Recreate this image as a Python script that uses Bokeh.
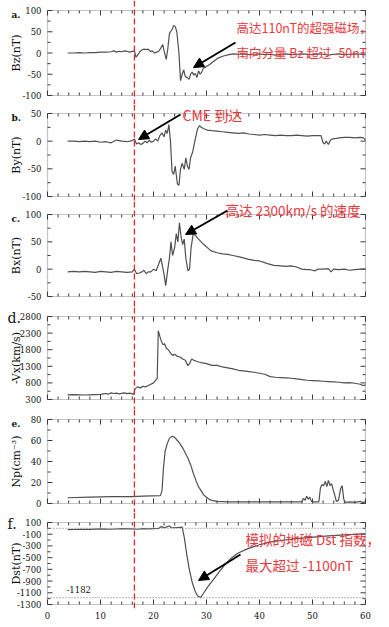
import numpy as np
from bokeh.plotting import figure
from bokeh.layouts import column
from bokeh.models import (Range1d, FixedTicker, BoxAnnotation, Span, Label, Arrow, NormalHead)
from bokeh.core.properties import value
from bokeh.embed import file_html
from bokeh.resources import INLINE

# ---------------- data ----------------
cme_time = 16.4
x_ticks = [0, 10, 20, 30, 40, 50, 60]

bz_t = [3.8, 5, 6, 7, 8, 9, 10, 11, 12, 12.5, 13, 13.5, 14, 14.5, 15, 15.5, 16, 16.4,
        16.7, 17.0, 17.4, 17.8, 18.2, 18.6, 19.0, 19.4, 19.8, 20.2, 20.6, 21.0, 21.4,
        21.75, 22.0, 22.4, 22.7, 23.0, 23.2, 23.5, 23.8, 24.1, 24.4, 24.8, 25.1, 25.4,
        25.7, 26.0, 26.4, 26.7, 27.0, 27.3, 27.6, 27.9, 28.2, 28.5, 28.8, 29.1, 29.4,
        30.0, 30.6, 31.3, 32.2, 33.2, 34.2, 35.1, 36, 37, 38, 39, 40, 41, 42, 43, 44,
        45, 46, 47, 48, 49, 50, 51, 52, 53, 54, 55, 56, 57, 58, 59, 60]
bz = [0, 0, 1, 0, 1, 1, 2, 2, 3, 5, 2, 4, 3, 5, 4, 2, 4, 5,
      -10, -5, 3, 7, 9, 8, 9, 4, 5, 0, 2, 4, 12,
      20, 5, -15, 10, 45, 50, 55, 65, 62, 50, 0, -65, -50,
      -40, -55, -58, -62, -50, -45, -52, -48, -58, -42, -50, -45, -36,
      -32, -27, -20, -12, -7, -4, -2, -3, -2, -4, -3, -2, -4, -3, -5, -3,
      -2, -4, -3, -2, -3, -4, -2, -3, -5, -3, -2, -4, -3, -2, -3, -4]

by_t = [3.8, 5, 6, 7, 8, 9, 10, 11, 12, 13, 14, 15, 16, 16.4, 16.8, 17.2, 17.6, 18.0,
        18.4, 18.8, 19.2, 19.6, 20.0, 20.4, 20.8, 21.2, 21.6, 22.0, 22.3, 22.6, 22.9,
        23.2, 23.5, 23.8, 24.1, 24.5, 24.8, 25.1, 25.4, 25.8, 26.1, 26.4, 26.7, 27.0,
        27.4, 27.8, 28.3, 28.7, 29.0, 29.6, 30.2, 31.0, 32, 33, 34, 35, 36, 37, 38, 39,
        40, 41, 42, 43, 44, 45, 46, 47, 48, 49, 50, 51, 51.6, 52.0, 52.3, 52.6, 53.0,
        53.4, 53.8, 54.5, 55, 56, 57, 58, 59, 59.6, 60]
by = [0, 0, -1, 0, -1, 0, -2, -1, -3, 2, 0, -1, 1, 4, -5, -3, -6, -4,
      0, -3, 2, -2, 0, 4, 0, 10, 15, 8, 20, 14, 30,
      0, -55, -60, -45, -77, -80, -50, -40, -51, -30, -45, -51, -30,
      -19, 0, 22, 28, 25, 22, 20, 19, 18, 17, 16, 15, 14, 15, 13, 12,
      11, 12, 11, 10, 11, 10, 10, 11, 10, 9, 10, 10, 10, -3, -5, 0, -6,
      2, 4, 5, 6, 7, 7, 6, 7, 6, 2]

bx_t = [3.8, 5, 6, 7, 8, 9, 10, 11, 12, 13, 14, 15, 16, 16.4, 16.8, 17.3, 17.8, 18.2,
        18.6, 19.0, 19.5, 20.0, 20.5, 21.0, 21.4, 21.7, 22.0, 22.3, 22.7, 23.0, 23.3,
        23.6, 24.0, 24.3, 24.6, 24.9, 25.2, 25.5, 25.8, 26.1, 26.5, 26.8, 27.1, 27.5,
        27.9, 28.5, 29.5, 30.8, 32, 33, 34, 35, 36.4, 38, 39, 40, 41, 41.5, 42.7, 44,
        45, 46, 47, 48, 49, 49.6, 50.5, 51, 52, 53, 53.5, 54, 55, 56, 57, 58, 59, 60]
bx = [-5, -4, -5, -4, -5, -6, -4, -5, -6, -4, -5, -6, -5, 0, -8, -7, -5, -2,
      -8, -5, -5, 0, -3, 10, 20, 5, -10, -30, 0, 20, 50,
      25, 40, 65, 50, 85, 60, 45, 55, 20, -3, 0, 40, 65,
      62, 55, 45, 34, 30, 28, 27, 25, 22, 18, 16, 15, 12, 10, 7, 6,
      5, 6, 4, 0, -1, -1, -3, 0, 0, 1, -5, 0, -1, 0, -2, -1, 0, 0]

vx_t = [3.8, 5, 6, 7, 8, 9, 10, 10.5, 11, 11.5, 12, 12.5, 13, 13.5, 14, 14.5, 15, 15.5,
        16, 16.3, 16.5, 17, 17.5, 18, 18.5, 19, 19.5, 20, 20.4, 20.7, 20.9, 21.2, 21.5,
        21.8, 22.1, 22.4, 22.8, 23.2, 23.6, 24, 24.5, 25, 25.5, 26, 26.5, 26.8, 27.2,
        27.6, 28, 28.5, 29, 30, 31, 32, 33, 34, 35, 36, 37, 38, 39, 40, 41, 42, 43, 44,
        45, 46, 47, 48, 49, 50, 51, 52, 53, 54, 55, 56, 57, 58, 59, 59.5, 60]
vx = [440, 445, 440, 435, 440, 445, 450, 470, 480, 460, 500, 480, 490, 470, 485, 500, 475, 490,
      470, 455, 620, 680, 650, 700, 680, 720, 760, 800, 880, 930, 2370, 2200, 2050,
      1950, 1980, 1850, 1800, 1700, 1630, 1660, 1600, 1580, 1520, 1480, 1320, 1380, 1520,
      1480, 1460, 1430, 1410, 1380, 1330, 1330, 1280, 1250, 1220, 1180, 1160, 1140, 1120, 1090, 1060, 990, 970, 960,
      950, 940, 920, 900, 880, 870, 860, 850, 840, 830, 820, 800, 810, 790, 760, 720, 740]

np_t = [3.8, 8, 12, 16, 18, 21.3, 21.6, 21.9, 22.2, 22.6, 23.0, 23.5, 24.0, 24.5, 25.0,
        25.5, 26.0, 26.5, 27.0, 27.5, 28.0, 28.5, 29.0, 29.5, 30.0, 30.5, 31.0, 32.0, 34,
        38, 42, 46, 48.0, 48.3, 48.6, 48.9, 49.2, 49.5, 49.8, 50.2, 51.2, 51.5, 51.8,
        52.1, 52.4, 52.7, 53.0, 53.3, 53.6, 53.9, 54.2, 54.5, 54.9, 55.3, 55.6, 55.9,
        56.2, 57, 58, 59, 59.5, 60]
np_v = [5.5, 6, 6.5, 6.5, 7, 7.5, 12, 35, 50, 57, 62, 64, 63, 60, 57,
        53, 48, 43, 37, 29, 22, 16, 12, 8, 6, 4, 3, 2, 1.5,
        1.5, 1.5, 1.5, 1.5, 5, 3, 7, 4, 6, 2, 1.5, 1.5, 15, 18,
        17, 21, 16, 22, 17, 19, 13, 8, 2, 3, 14, 17, 4,
        1, 1.5, 1, 2, 1, 1.5]

dst_t = [3.8, 6, 8, 10, 12, 14, 16, 17, 18, 19, 20, 21, 21.5, 22, 22.5, 23, 23.3, 23.8,
         24.5, 25.4, 25.8, 26.3, 26.8, 27.3, 27.8, 28.3, 28.9, 29.5, 30.3, 31.4, 32.5,
         33.5, 34.5, 36, 37.7, 40, 42, 44, 47, 50.2, 53, 56, 59.6, 60]
dst = [-20, -15, -18, -10, -15, -5, -10, -15, -5, -10, -5, 0, 30, 10, 25, 40, 15, 10,
       15, 20, -150, -460, -720, -920, -1060, -1150, -1182, -1100, -990, -861, -730,
       -620, -520, -420, -350, -280, -235, -207, -175, -150, -128, -110, -93, -92]
dst_quiet = 0
dst_min = -1182

# ---------------- layout / style ----------------
W = 389
LEFT, RIGHT, BOTTOM = 47, 24, 19
TICK_FONT = "DejaVu Serif"
RED = "#e8383d"
CJK = "Noto Sans CJK SC"
LINE = "#505050"
FRAME = "#3a3a3a"

panels = [
    dict(t=bz_t, v=bz, lo=-100, hi=100, ticks=[-100, -50, 0, 50, 100], minor=25,
         label="Bz(nT)", letter="a.", big=False, frame_h=104, box=(10, 95)),
    dict(t=by_t, v=by, lo=-100, hi=50, ticks=[-100, -50, 0, 50], minor=25,
         label="By(nT)", letter="b.", big=False, frame_h=97, box=(9, 92)),
    dict(t=bx_t, v=bx, lo=-50, hi=100, ticks=[-50, 0, 50, 100], minor=25,
         label="Bx(nT)", letter="c.", big=False, frame_h=106, box=(13, 95)),
    dict(t=vx_t, v=vx, lo=300, hi=2800, ticks=[300, 800, 1300, 1800, 2300, 2800], minor=250,
         label="-Vx(km/s)", letter="d.", big=True, frame_h=102, box=(9, 92)),
    dict(t=np_t, v=np_v, lo=0, hi=80, ticks=[0, 20, 40, 60, 80], minor=10,
         label="Np(cm\u207b\u00b3)", letter="e.", big=False, frame_h=103, box=(10, 94)),
    dict(t=dst_t, v=dst, lo=-1300, hi=100,
         ticks=[100, -100, -300, -500, -700, -900, -1100, -1300], minor=100,
         label="Dst(nT)", letter="f.", big=True, frame_h=96, box=(10, 92)),
]

px_per_x = (W - LEFT - RIGHT) / 60.0
X0 = -LEFT / px_per_x
X1 = 60 + RIGHT / px_per_x


def xdata(img_x):
    return (img_x - LEFT) / px_per_x


def make_panel(pn, last):
    bt, bb = pn["box"]
    hf = pn["frame_h"]
    lo, hi = pn["lo"], pn["hi"]
    s = (hi - lo) / (bb - bt)
    y0 = lo - (hf - bb) * s
    y1 = hi + bt * s
    h = hf + (BOTTOM if last else 0)
    p = figure(width=W, height=h, x_range=Range1d(X0, X1), y_range=Range1d(y0, y1),
               output_backend="svg", toolbar_location=None, title=None,
               min_border_left=0, min_border_right=0, min_border_top=0,
               min_border_bottom=BOTTOM if last else 0,
               x_axis_location="below" if last else None, y_axis_location=None)
    p.outline_line_color = None
    p.background_fill_color = "white"
    p.border_fill_color = "white"
    p.grid.visible = False

    if last:
        xa = p.xaxis[0]
        xa.ticker = FixedTicker(ticks=x_ticks)
        xa.axis_line_color = None
        xa.major_tick_in = 0
        xa.major_tick_out = 0
        xa.minor_tick_in = 0
        xa.minor_tick_out = 0
        xa.major_label_standoff = 3
        xa.major_label_text_font = TICK_FONT
        xa.major_label_text_font_size = "8.5px"
        xa.major_label_text_color = "#111"

    # panel box
    p.add_layout(BoxAnnotation(left=0, right=60, bottom=lo, top=hi, fill_alpha=0,
                               line_color=FRAME, line_width=1.2))

    # x ticks along top and bottom of the box
    xmaj = np.array(x_ticks, dtype=float)
    xmin = np.array([v for v in np.arange(0, 61, 2) if v not in x_ticks], dtype=float)
    for xs, ln in ((xmaj, 5), (xmin, 3)):
        n = len(xs)
        p.segment(x0=xs, x1=xs, y0=np.full(n, hi), y1=np.full(n, hi - ln * s),
                  line_color=FRAME, line_width=1)
        p.segment(x0=xs, x1=xs, y0=np.full(n, lo), y1=np.full(n, lo + ln * s),
                  line_color=FRAME, line_width=1)

    # y ticks on both sides of the box
    ymaj = np.array(pn["ticks"], dtype=float)
    ymin = np.array([m for m in np.arange(min(pn["ticks"]), max(pn["ticks"]) + 1e-9, pn["minor"])
                     if m not in pn["ticks"]], dtype=float)
    for ys, ln in ((ymaj, 5), (ymin, 3)):
        n = len(ys)
        dx = ln / px_per_x
        p.segment(x0=np.zeros(n), x1=np.full(n, dx), y0=ys, y1=ys, line_color=FRAME, line_width=1)
        p.segment(x0=np.full(n, 60.0), x1=np.full(n, 60 - dx), y0=ys, y1=ys,
                  line_color=FRAME, line_width=1)

    # y tick labels
    p.text(x=np.zeros(len(ymaj)), y=ymaj, text=[str(int(v)) for v in pn["ticks"]],
           x_offset=-6, text_align="right", text_baseline="middle",
           text_font=value(TICK_FONT), text_font_size=value("8.5px"), text_color="#111")

    p.line(pn["t"], pn["v"], line_color=LINE, line_width=1.2)

    p.add_layout(Span(location=cme_time, dimension="height", line_color="#e0262b",
                      line_dash="6 3", line_width=1.3))

    p.add_layout(Label(x=xdata(16), y=(lo + hi) / 2, text=pn["label"], angle=np.pi / 2,
                       text_align="center", text_baseline="middle",
                       text_font="DejaVu Serif", text_font_size="11px", text_color="#111"))
    if pn["big"]:
        p.add_layout(Label(x=xdata(7), y=hi - 1 * s, text=pn["letter"], text_align="left",
                           text_baseline="middle", text_font="DejaVu Serif",
                           text_font_size="14px", text_color="#111"))
    else:
        p.add_layout(Label(x=xdata(11), y=hi - 4 * s, text=pn["letter"], text_align="left",
                           text_baseline="middle", text_font="DejaVu Serif",
                           text_font_style="bold", text_font_size="9px", text_color="#111"))
    return p, s


figs = []
scales = []
for i, pn in enumerate(panels):
    f, s = make_panel(pn, i == len(panels) - 1)
    figs.append(f)
    scales.append(s)


def ydata(k, img_y):
    pn = panels[k]
    top_canvas = sum(q["frame_h"] for q in panels[:k])
    return pn["hi"] - (img_y - top_canvas - pn["box"][0]) * scales[k]


def red_text(k, img_x, img_y, txt, size):
    figs[k].add_layout(Label(x=xdata(img_x), y=ydata(k, img_y), text=txt,
                             text_align="left", text_baseline="middle",
                             text_font=CJK, text_font_size=size, text_color=RED))


def arrow(k, x0, y0, x1, y1):
    figs[k].add_layout(Arrow(end=NormalHead(size=10, fill_color="black", line_color="black"),
                             x_start=xdata(x0), y_start=ydata(k, y0),
                             x_end=xdata(x1), y_end=ydata(k, y1),
                             line_color="black", line_width=2))


red_text(0, 236, 27, "高达110nT的超强磁场，", "12.5px")
red_text(0, 236, 52, "南向分量 Bz 超过 -50nT", "12.5px")
arrow(0, 235, 42, 193, 67)

red_text(1, 182, 114, "CME 到达", "14px")
arrow(1, 180, 114, 138, 139)

red_text(2, 225, 209, "高达 2300km/s 的速度", "13.5px")
arrow(2, 227, 210, 185, 234)

red_text(5, 245, 538, "模拟的地磁 Dst 指数，", "13.5px")
red_text(5, 245, 564, "最大超过 -1100nT", "13.5px")
arrow(5, 240, 554, 198, 580)

pf = figs[5]
for loc in (dst_quiet, dst_min):
    pf.line([0, 60], [loc, loc], line_color="#8a8a8a", line_dash="1 2", line_width=1.2)
pf.add_layout(Label(x=xdata(66), y=ydata(5, 589), text=str(dst_min), text_align="left",
                    text_baseline="middle", text_font=TICK_FONT, text_font_size="8.5px",
                    text_color="#111"))

layout = column(*figs, spacing=0)
open("out.html", "w").write(file_html(layout, INLINE))
